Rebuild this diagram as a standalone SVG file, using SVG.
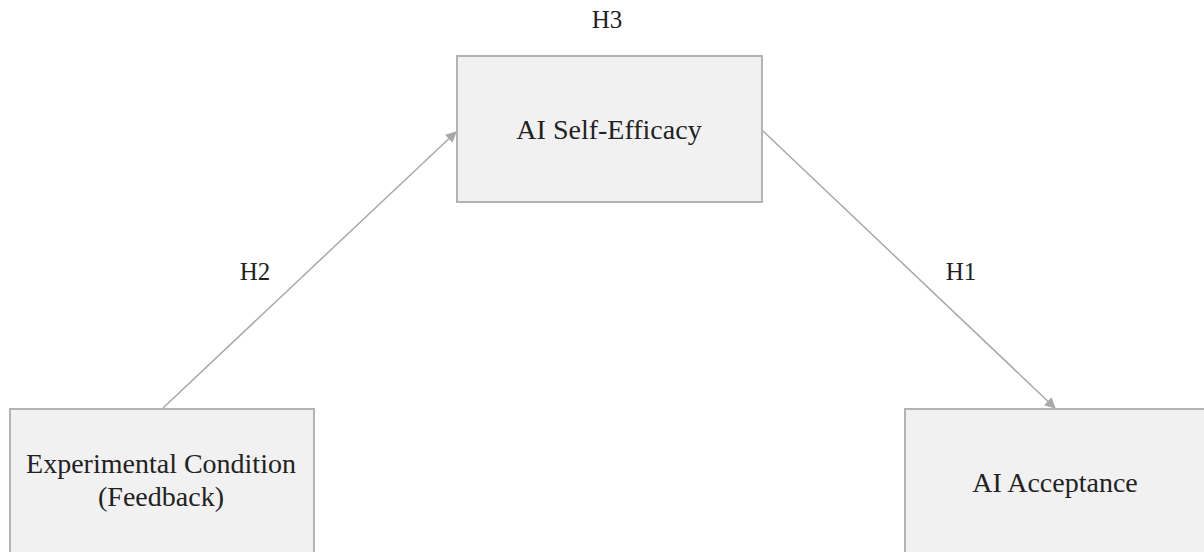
<svg xmlns="http://www.w3.org/2000/svg" width="1204" height="552" viewBox="0 0 1204 552">
<defs>
<style>
.box{fill:#f1f1f1;stroke:#b3b3b3;stroke-width:2}
.t{font-family:"Liberation Serif","Times New Roman",serif;font-size:28px;fill:#222;text-anchor:middle}
.h{font-family:"Liberation Serif","Times New Roman",serif;font-size:25px;fill:#222;text-anchor:middle}
.c{stroke:#a8a8a8;stroke-width:1.5;fill:none}
</style>
<marker id="ah" viewBox="0 0 10 10" refX="9" refY="5" markerWidth="13" markerHeight="11" markerUnits="userSpaceOnUse" orient="auto">
<path d="M0,0 L10,5 L0,10 z" fill="#a8a8a8"/>
</marker>
</defs>
<rect width="1204" height="552" fill="#ffffff"/>
<g id="connectors">
<line class="c" x1="163" y1="408" x2="456" y2="132" marker-end="url(#ah)"/>
<line class="c" x1="763" y1="131" x2="1055" y2="408" marker-end="url(#ah)"/>
<text class="h" x="255" y="280">H2</text>
<text class="h" x="961" y="280">H1</text>
</g>
<g id="label-h3">
<text class="h" x="607" y="28">H3</text>
</g>
<g id="node-efficacy">
<rect class="box" x="457" y="56" width="305" height="146"/>
<text class="t" x="609" y="139">AI Self-Efficacy</text>
</g>
<g id="node-condition">
<rect class="box" x="10" y="409" width="304" height="150"/>
<text class="t" x="161" y="473">Experimental Condition</text>
<text class="t" x="161" y="506">(Feedback)</text>
</g>
<g id="node-acceptance">
<rect class="box" x="905" y="409" width="310" height="150"/>
<text class="t" x="1055" y="492">AI Acceptance</text>
</g>
</svg>
